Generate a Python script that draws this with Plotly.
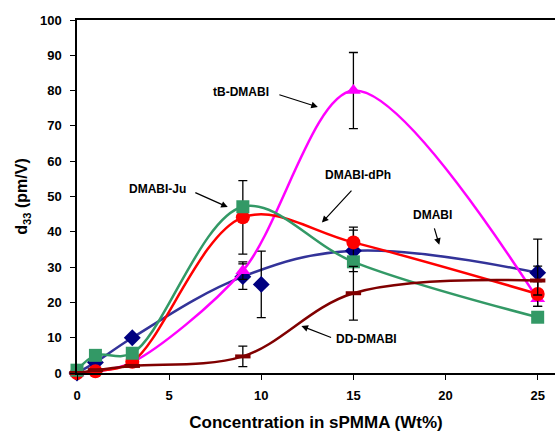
import plotly.graph_objects as go

# Concentration of chromophore in sPMMA (wt%)
conc = [0, 1, 3, 9, 15, 25]

# d33 values (pm/V) and their error bars for each chromophore
dmabi = [0, 3, 10, 27.3, 34.6, 28.4]
dmabi_err = [None, None, None, 3.6, 5.9, 9.5]
dmabi_extra_x = [10]
dmabi_extra_y = [25.1]
dmabi_extra_err = [9.4]

tb_dmabi = [0, 0.4, 3, 29, 80, 21]
tb_dmabi_err = [None, None, None, 2.5, 10.8, None]

dmabi_dph = [0, 0.5, 3.2, 44.1, 37.0, 22.4]
dmabi_dph_err = [None, None, None, 10.4, 4.3, 3.5]

dmabi_ju = [0.8, 5.0, 5.6, 47.1, 31.5, 15.8]

dd_dmabi = [0, 0.8, 2, 4.7, 22.6, 26.2]
dd_dmabi_err = [None, None, None, 2.9, 7.6, 4.1]

BLACK = "#000000"
FONT = "Liberation Sans, Arial, sans-serif"


def err(arr):
    return dict(type="data", array=arr, visible=True, color=BLACK,
                thickness=1.3, width=4.5)


fig = go.Figure()

fig.add_trace(go.Scatter(
    x=conc, y=dmabi, mode="lines+markers", name="DMABI",
    line=dict(color="#333399", width=2.5, shape="spline", smoothing=1.1),
    marker=dict(symbol="diamond", size=13, color="#000080"),
    error_y=err(dmabi_err), cliponaxis=False))
fig.add_trace(go.Scatter(
    x=dmabi_extra_x, y=dmabi_extra_y, mode="markers", name="DMABI",
    marker=dict(symbol="diamond", size=13, color="#000080"),
    error_y=err(dmabi_extra_err), cliponaxis=False))
fig.add_trace(go.Scatter(
    x=conc, y=tb_dmabi, mode="lines+markers", name="tB-DMABI",
    line=dict(color="#FF00FF", width=2.5, shape="spline", smoothing=0.9),
    marker=dict(symbol="triangle-up", size=13, color="#FF00FF"),
    error_y=err(tb_dmabi_err), cliponaxis=False))
fig.add_trace(go.Scatter(
    x=conc, y=dmabi_dph, mode="lines+markers", name="DMABI-dPh",
    line=dict(color="#FF0000", width=2.5, shape="spline", smoothing=1),
    marker=dict(symbol="circle", size=14, color="#FF0000"),
    error_y=err(dmabi_dph_err), cliponaxis=False))
fig.add_trace(go.Scatter(
    x=conc, y=dmabi_ju, mode="lines+markers", name="DMABI-Ju",
    line=dict(color="#339966", width=2.5, shape="spline", smoothing=1),
    marker=dict(symbol="square", size=13, color="#339966"),
    cliponaxis=False))
fig.add_trace(go.Scatter(
    x=conc, y=dd_dmabi, mode="lines+markers", name="DD-DMABI",
    line=dict(color="#800000", width=2.5, shape="spline", smoothing=1),
    marker=dict(symbol="line-ew", size=11,
                line=dict(color="#800000", width=4)),
    error_y=err(dd_dmabi_err), cliponaxis=False))

# Series labels with pointer arrows: (text, text x, text y, tail x, tail y, tip x, tip y)
labels = [
    ("tB-DMABI", 8.89, 79.6, 10.90, 78.95, 13.07, 75.35),
    ("DMABI-dPh", 15.27, 56.1, 14.97, 52.1, 13.29, 42.6),
    ("DMABI-Ju", 4.38, 52.1, 6.34, 51.3, 8.18, 47.0),
    ("DMABI", 19.31, 44.8, 19.37, 41.4, 19.66, 36.3),
    ("DD-DMABI", 15.73, 9.6, 13.87, 9.9, 12.18, 13.3),
]
annotations = []
for text, tx, ty, ax, ay, hx, hy in labels:
    annotations.append(dict(x=tx, y=ty, xref="x", yref="y", text=f"<b>{text}</b>",
                            showarrow=False, font=dict(family=FONT, size=12, color=BLACK)))
    annotations.append(dict(x=hx, y=hy, ax=ax, ay=ay, xref="x", yref="y",
                            axref="x", ayref="y", text="", showarrow=True,
                            arrowhead=2, arrowsize=1.1, arrowwidth=1.2,
                            arrowcolor=BLACK))

fig.update_layout(
    width=555, height=433,
    margin=dict(l=77, r=0, t=20, b=60),
    paper_bgcolor="white", plot_bgcolor="white",
    showlegend=False,
    font=dict(family=FONT, color=BLACK),
    annotations=annotations,
    xaxis=dict(
        range=[0, 25.94], tickmode="array", tickvals=[0, 5, 10, 15, 20, 25],
        ticktext=["<b>0</b>", "<b>5</b>", "<b>10</b>", "<b>15</b>", "<b>20</b>", "<b>25</b>"],
        showgrid=False, zeroline=False, showline=True, linecolor=BLACK, linewidth=1.5,
        mirror=True, ticks="outside", ticklen=5, tickwidth=1.2, tickcolor=BLACK,
        tickfont=dict(size=13, family=FONT), ticklabelstandoff=5,
        title=dict(text="<b>Concentration in sPMMA (Wt%)</b>",
                   font=dict(size=17, family=FONT), standoff=14),
    ),
    yaxis=dict(
        range=[0, 100], tickmode="array", tickvals=list(range(0, 101, 10)),
        ticktext=[f"<b>{v}</b>" for v in range(0, 101, 10)],
        showgrid=False, zeroline=False, showline=True, linecolor=BLACK, linewidth=1.5,
        ticks="outside", ticklen=5, tickwidth=1.2, tickcolor=BLACK,
        tickfont=dict(size=13, family=FONT), ticklabelstandoff=6,
        title=dict(text="<b>d<sub>33</sub> (pm/V)</b>",
                   font=dict(size=16, family=FONT), standoff=8),
    ),
)

fig.write_html("out.html")
